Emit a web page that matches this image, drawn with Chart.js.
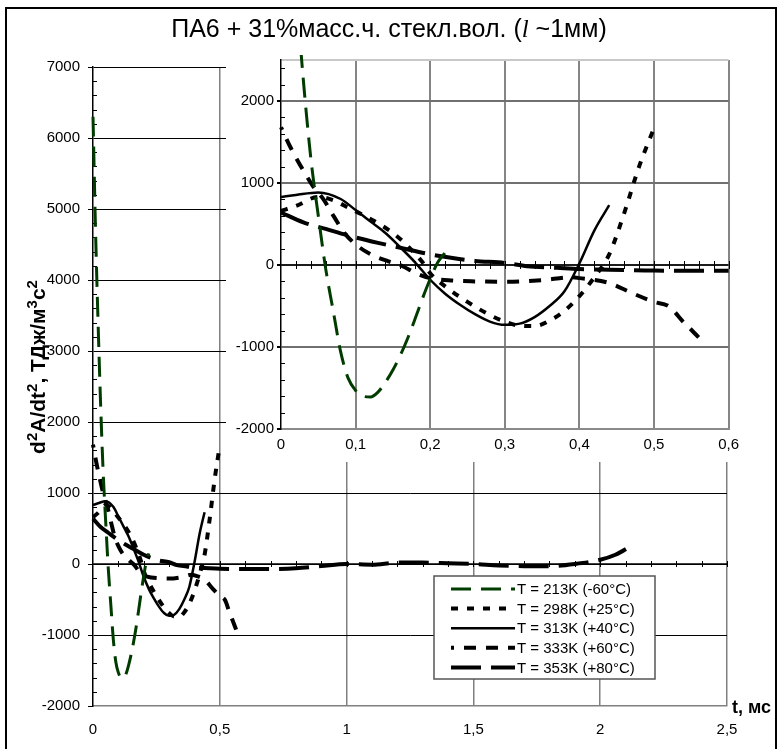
<!DOCTYPE html>
<html>
<head>
<meta charset="utf-8">
<script src="https://cdn.jsdelivr.net/npm/chart.js@4.4.0/dist/chart.umd.min.js"></script>
<style>
  body { margin: 0; background: #fff; }
  #frame { position: absolute; left: 5px; top: 7px; width: 772px; height: 760px; border: 2px solid #000; box-sizing: border-box; }
  #title { position: absolute; left: 0; top: 14px; width: 778px; text-align: center;
           font: 25px "Liberation Sans Narrow", "Liberation Sans", Arial, sans-serif; color: #000; }
  #title i { font-family: "Liberation Serif", serif; }
  #main { position: absolute; left: 0; top: 0; }
  #inset { position: absolute; left: 226px; top: 48px; background: #fff; }
</style>
</head>
<body>
<div id="frame"></div>
<canvas id="main" width="778" height="749"></canvas>
<canvas id="inset" width="520" height="414"></canvas>
<div id="title">ПА6 + 31%масс.ч. стекл.вол. (<i>l</i> ~1мм)</div>
<script>
// time, ms  /  d2A/dt2, TJ/m3s2
const t213 = [0, 0.01, 0.02, 0.03, 0.04, 0.05, 0.06, 0.07, 0.08, 0.09, 0.10, 0.11, 0.12, 0.13, 0.14, 0.15, 0.16, 0.17, 0.18, 0.19, 0.20, 0.21, 0.22];
const v213 = [6300, 4700, 3400, 2250, 1300, 600, -50, -560, -1060, -1380, -1530, -1600, -1610, -1550, -1430, -1280, -1100, -890, -650, -400, -170, 30, 150];

const t298 = [0, 0.02, 0.05, 0.07, 0.09, 0.11, 0.13, 0.15, 0.17, 0.19, 0.20, 0.22, 0.25, 0.28, 0.30, 0.32, 0.34, 0.36, 0.38, 0.40, 0.42, 0.44, 0.46, 0.48, 0.50];
const v298 = [660, 720, 830, 790, 700, 610, 510, 390, 230, 30, -100, -260, -450, -610, -690, -740, -745, -680, -560, -380, -150, 130, 630, 1200, 1670];

const t313 = [0, 0.02, 0.05, 0.08, 0.10, 0.12, 0.14, 0.16, 0.18, 0.20, 0.22, 0.24, 0.26, 0.28, 0.30, 0.32, 0.34, 0.36, 0.38, 0.40, 0.42, 0.44];
const v313 = [830, 855, 885, 805, 670, 530, 390, 215, 30, -180, -350, -485, -600, -690, -730, -715, -635, -500, -320, 20, 420, 730];

const t333 = [0, 0.013, 0.032, 0.043, 0.057, 0.071, 0.085, 0.103, 0.126, 0.144, 0.163, 0.181, 0.20, 0.23, 0.26, 0.30, 0.35, 0.39, 0.40, 0.44, 0.47, 0.50, 0.52, 0.54, 0.55, 0.565];
const v333 = [1680, 1430, 1120, 960, 800, 590, 390, 230, 105, 45, -15, -100, -160, -190, -200, -205, -185, -150, -160, -220, -340, -450, -505, -700, -790, -930];

const t353 = [0, 0.03, 0.06, 0.09, 0.13, 0.16, 0.20, 0.23, 0.26, 0.30, 0.33, 0.37, 0.40, 0.44, 0.50, 0.60, 0.70, 0.80, 0.90, 1.00, 1.10, 1.20, 1.30, 1.40, 1.50, 1.60, 1.70, 1.80, 1.90, 2.00, 2.06, 2.12];
const v353 = [640, 520, 440, 360, 270, 210, 130, 85, 50, 25, -15, -35, -50, -57, -68, -70, -70, -60, -30, 0, -10, 20, 20, 10, 0, -20, -30, -30, 0, 60, 130, 250];

const labels = ['T = 213K (-60°C)', 'T = 298K (+25°C)', 'T = 313K (+40°C)', 'T = 333K (+60°C)', 'T = 353K (+80°C)'];

const mainXTicks = [0, 0.5, 1, 1.5, 2, 2.5];
const mainYTicks = [-2000, -1000, 0, 1000, 2000, 3000, 4000, 5000, 6000, 7000];
const insetXTicks = [0, 0.1, 0.2, 0.3, 0.4, 0.5, 0.6];
const insetYTicks = [-2000, -1000, 0, 1000, 2000, 2500];

const series = [
  { t: t213, v: v213, color: '#003c00', width: 3, dash: [20, 10], offset: 0 },
  { t: t298, v: v298, color: '#000', width: 4, dash: [7, 9], offset: 0 },
  { t: t313, v: v313, color: '#000', width: 2.5, dash: [], offset: 0 },
  { t: t333, v: v333, color: '#000', width: 4, dash: [12, 10], offset: 9 },
  { t: t353, v: v353, color: '#000', width: 4, dash: [30, 10], offset: 0 }
];

const fmt = v => String(Math.round(v * 100) / 100).replace('.', ',');
const arial = '"Liberation Sans", Arial, sans-serif';
const narrow = '"Liberation Sans Narrow", "Liberation Sans", Arial, sans-serif';
const setTicks = list => scale => { scale.ticks = list.map(v => ({ value: v })); };

function makeDatasets() {
  return series.map((s, i) => ({
    label: labels[i],
    data: s.t.map((t, j) => ({ x: t, y: s.v[j] })),
    borderColor: s.color,
    borderWidth: s.width,
    borderDash: s.dash,
    borderDashOffset: s.offset,
    pointRadius: 0,
    fill: false,
    cubicInterpolationMode: 'monotone',
    clip: 5
  }));
}

// zero line with small ticks, and minor ticks on the y axis
function axisDecor(xStep, yStep, up, down) {
  return {
    id: 'axisDecor',
    beforeDatasetsDraw(chart) {
      const { ctx, chartArea: a, scales: { x, y } } = chart;
      const y0 = y.getPixelForValue(0);
      ctx.save();
      ctx.strokeStyle = '#000';
      ctx.lineWidth = 1.5;
      ctx.beginPath();
      ctx.moveTo(a.left, y0);
      ctx.lineTo(a.right, y0);
      ctx.stroke();
      ctx.lineWidth = 1;
      ctx.beginPath();
      for (let k = 1; k * xStep <= x.max + 1e-9; k++) {
        const px = Math.round(x.getPixelForValue(k * xStep)) + 0.5;
        ctx.moveTo(px, y0 - up);
        ctx.lineTo(px, y0 + down);
      }
      for (let v = y.min; v <= y.max; v += yStep) {
        if (v % 1000 === 0) continue;
        const py = Math.round(y.getPixelForValue(v)) + 0.5;
        ctx.moveTo(a.left, py);
        ctx.lineTo(a.left + 4, py);
      }
      ctx.stroke();
      ctx.restore();
    }
  };
}

const legendBox = {
  id: 'legendBox',
  afterDatasetsDraw(chart) {
    const { ctx } = chart;
    const bx = 434, by = 576, bw = 221, bh = 103;
    ctx.save();
    ctx.fillStyle = '#fff';
    ctx.fillRect(bx, by, bw, bh);
    ctx.strokeStyle = '#555';
    ctx.lineWidth = 1.5;
    ctx.strokeRect(bx, by, bw, bh);
    ctx.font = '15px ' + arial;
    ctx.textBaseline = 'middle';
    ctx.fillStyle = '#000';
    chart.data.datasets.forEach((ds, i) => {
      const ly = 589 + i * 19.6;
      ctx.beginPath();
      ctx.strokeStyle = ds.borderColor;
      ctx.lineWidth = ds.borderWidth;
      ctx.setLineDash(ds.borderDash);
      ctx.lineDashOffset = ds.borderDashOffset;
      ctx.moveTo(451, ly);
      ctx.lineTo(515, ly);
      ctx.stroke();
      ctx.setLineDash([]);
      ctx.fillText(ds.label, 517, ly + 1);
    });
    ctx.restore();
  }
};

// y title with raised digits: [text, superscript?]
const yTitleParts = [['d', 0], ['2', 1], ['A/dt', 0], ['2', 1], [', ТДж/м', 0], ['3', 1], ['с', 0], ['2', 1]];

const axisTitles = {
  id: 'axisTitles',
  afterDraw(chart) {
    const { ctx } = chart;
    ctx.save();
    ctx.fillStyle = '#000';
    ctx.font = 'bold 18px ' + arial;
    ctx.textBaseline = 'alphabetic';
    ctx.textAlign = 'left';
    ctx.fillText('t, мс', 732, 713);

    const big = 'bold 21px ' + arial, small = 'bold 15px ' + arial;
    let total = 0;
    yTitleParts.forEach(([s, sup]) => { ctx.font = sup ? small : big; total += ctx.measureText(s).width; });
    ctx.translate(45, 367);
    ctx.rotate(-Math.PI / 2);
    let cx = -total / 2;
    yTitleParts.forEach(([s, sup]) => {
      ctx.font = sup ? small : big;
      ctx.fillText(s, cx, sup ? -8 : 0);
      cx += ctx.measureText(s).width;
    });
    ctx.restore();
  }
};

new Chart(document.getElementById('main'), {
  type: 'line',
  data: { datasets: makeDatasets() },
  options: {
    responsive: false,
    animation: false,
    events: [],
    layout: { padding: { top: 67, right: 51, left: 0, bottom: 0 } },
    plugins: { legend: { display: false }, tooltip: { enabled: false } },
    scales: {
      x: {
        type: 'linear', min: 0, max: 2.5,
        afterFit: s => { s.height = 43; },
        afterBuildTicks: setTicks(mainXTicks),
        ticks: { padding: 15, color: '#000', maxRotation: 0, autoSkip: false,
                 font: { family: narrow, size: 15 }, callback: v => fmt(v) },
        grid: { drawTicks: false, lineWidth: 1.5,
                color: c => (c.tick && c.tick.value === 0) ? 'rgba(0,0,0,0)' : '#808080' },
        border: { color: '#808080', width: 1.5 }
      },
      y: {
        min: -2000, max: 7000,
        afterFit: s => { s.width = 93; },
        afterBuildTicks: setTicks(mainYTicks),
        ticks: { padding: 8, color: '#000', autoSkip: false, font: { family: arial, size: 15 },
                 callback: v => String(v) },
        grid: { lineWidth: 1, tickLength: 5, tickColor: '#000',
                color: c => (c.tick && c.tick.value === -2000) ? 'rgba(0,0,0,0)' : '#000' },
        border: { color: '#000', width: 1.5 }
      }
    }
  },
  plugins: [axisDecor(0.1, 200, 3, 3), legendBox, axisTitles]
});

new Chart(document.getElementById('inset'), {
  type: 'line',
  data: { datasets: makeDatasets() },
  options: {
    responsive: false,
    animation: false,
    events: [],
    layout: { padding: { top: 11, right: 10, left: 0, bottom: 0 } },
    plugins: { legend: { display: false }, tooltip: { enabled: false } },
    scales: {
      x: {
        type: 'linear', min: 0, max: 0.6,
        afterFit: s => { s.height = 33; },
        afterBuildTicks: setTicks(insetXTicks),
        ticks: { padding: 7, color: '#000', maxRotation: 0, autoSkip: false,
                 font: { family: arial, size: 15 }, callback: v => fmt(v) },
        grid: { drawTicks: false, lineWidth: 2,
                color: c => (c.tick && c.tick.value === 0) ? 'rgba(0,0,0,0)' : '#858585' },
        border: { color: '#8a8a8a', width: 2 }
      },
      y: {
        min: -2000, max: 2500,
        afterFit: s => { s.width = 55; },
        afterBuildTicks: setTicks(insetYTicks),
        ticks: { padding: 3, color: '#000', autoSkip: false, font: { family: arial, size: 15 },
                 callback: v => (v % 1000 === 0 ? String(v) : '') },
        grid: { lineWidth: 2, tickLength: 4,
                tickColor: c => (c.tick && c.tick.value % 1000 !== 0) ? 'rgba(0,0,0,0)' : '#000',
                color: c => {
                  if (!c.tick) return '#707070';
                  if (c.tick.value === -2000) return 'rgba(0,0,0,0)';
                  if (c.tick.value === 2500) return '#c8c8c8';
                  return '#707070';
                } },
        border: { color: '#000', width: 1.5 }
      }
    }
  },
  plugins: [axisDecor(0.02, 200, 4, 4)]
});
</script>
</body>
</html>
